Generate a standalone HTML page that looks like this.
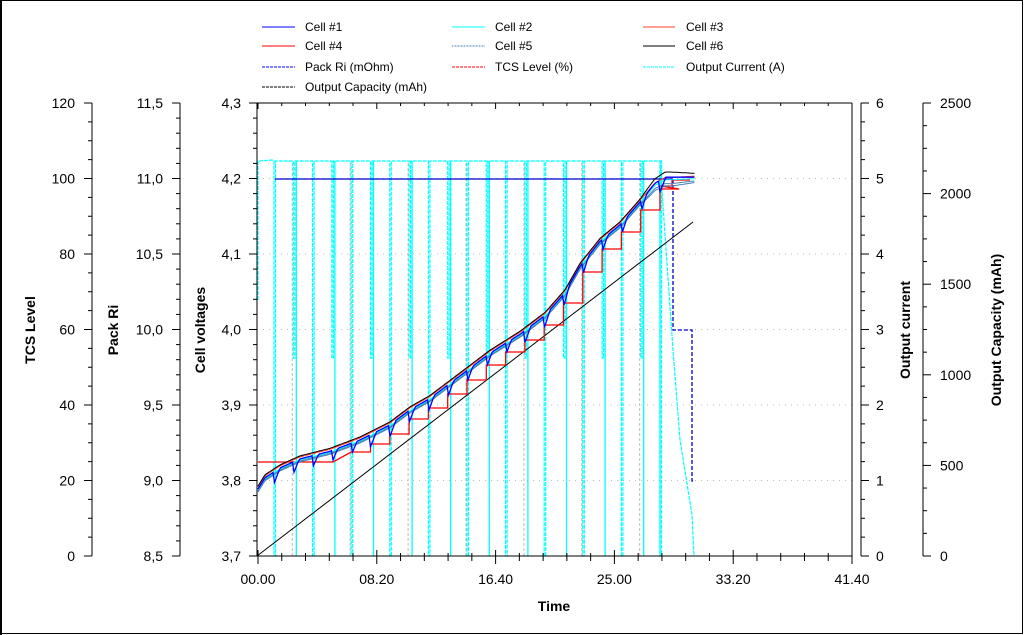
<!DOCTYPE html>
<html><head><meta charset="utf-8"><style>
body{margin:0;background:#fff}
svg{display:block;font-family:"Liberation Sans",sans-serif}
</style></head><body>
<svg id="s" width="1024" height="635" xmlns="http://www.w3.org/2000/svg">
<rect x="0.5" y="0.5" width="1022" height="633" fill="#fff" stroke="#000"/>
<rect x="0" y="0" width="2" height="635" fill="#000"/>
<g id="grid"></g>
<g id="data"></g>
<g id="axes" stroke="#000" fill="none"></g>
<g id="labels" font-size="14" fill="#000"></g>
<g font-size="14" font-weight="bold" fill="#000">
<text transform="translate(35,330) rotate(-90)" text-anchor="middle">TCS Level</text>
<text transform="translate(118,330) rotate(-90)" text-anchor="middle">Pack Ri</text>
<text transform="translate(205,330) rotate(-90)" text-anchor="middle">Cell voltages</text>
<text transform="translate(910,330) rotate(-90)" text-anchor="middle">Output current</text>
<text transform="translate(1001,330) rotate(-90)" text-anchor="middle">Output Capacity (mAh)</text>
<text x="554" y="611" text-anchor="middle">Time</text>
</g>
<g font-size="12" fill="#000">
<line x1="262" y1="27" x2="295" y2="27" stroke="#00f"/><text x="305" y="31">Cell #1</text>
<line x1="452" y1="27" x2="485" y2="27" stroke="#0ff"/><text x="495" y="31">Cell #2</text>
<line x1="643" y1="27" x2="675" y2="27" stroke="#ff4020"/><text x="686" y="31">Cell #3</text>
<line x1="262" y1="46" x2="295" y2="46" stroke="#f00"/><text x="305" y="50">Cell #4</text>
<line x1="452" y1="46" x2="485" y2="46" stroke="#4682b4" stroke-dasharray="1,0.5"/><text x="495" y="50">Cell #5</text>
<line x1="643" y1="46" x2="675" y2="46" stroke="#000"/><text x="686" y="50">Cell #6</text>
<line x1="262" y1="67" x2="295" y2="67" stroke="#00f" stroke-dasharray="3,1"/><text x="305" y="71">Pack Ri (mOhm)</text>
<line x1="452" y1="67" x2="485" y2="67" stroke="#f00" stroke-dasharray="3,1"/><text x="495" y="71">TCS Level (%)</text>
<line x1="643" y1="67" x2="675" y2="67" stroke="#0ff" stroke-dasharray="3,1"/><text x="686" y="71">Output Current (A)</text>
<line x1="262" y1="87" x2="295" y2="87" stroke="#000" stroke-dasharray="3,1"/><text x="305" y="91">Output Capacity (mAh)</text>
</g>
</svg>
<script>
const NS="http://www.w3.org/2000/svg";
function el(p,t,a,txt){const e=document.createElementNS(NS,t);for(const k in a)e.setAttribute(k,a[k]);if(txt!==undefined)e.textContent=txt;document.getElementById(p).appendChild(e);return e;}
function line(p,x1,y1,x2,y2,st,extra){el(p,'line',Object.assign({x1,y1,x2,y2,stroke:st||'#000'},extra||{}));}
const T=103,B=556,L=257,R=852;
for(let i=1;i<6;i++){const y=B-i*75.5;line('grid',L,y,R,y,'#bbb',{'stroke-dasharray':'1,5'});}
const A='axes';
line(A,L,T,R,T);line(A,L,B,R,B);line(A,L,T,L,B);line(A,R,T,R,B);
function vaxis(x,n,minorPer,labels,side,lx,anchor){
  line(A,x,T,x,B);
  const step=(B-T)/n;
  for(let i=0;i<=n;i++){const y=T+i*step;
    line(A,x,y,x+(side<0?-8:8),y);
    el('labels','text',{x:lx,y:y+5,'text-anchor':anchor},labels[i]);
    if(i<n)for(let j=1;j<minorPer;j++){const yy=y+j*step/minorPer;line(A,x,yy,x+(side<0?-4:4),yy);}
  }
}
vaxis(92,6,4,['120','100','80','60','40','20','0'],-1,75,'end');
vaxis(180,6,5,['11,5','11,0','10,5','10,0','9,5','9,0','8,5'],-1,163,'end');
vaxis(L,6,5,['4,3','4,2','4,1','4,0','3,9','3,8','3,7'],-1,241,'end');
vaxis(861,6,4,['6','5','4','3','2','1','0'],1,876,'start');
vaxis(923,5,4,['2500','2000','1500','1000','500','0'],1,940,'start');
const tl=['00.00','08.20','16.40','25.00','33.20','41.40'];
const sp=118.8;
for(let i=0;i<6;i++){const x=L+1+i*sp;line(A,x,B-6,x,B+8);el('labels','text',{x:x,y:584,'text-anchor':'middle'},tl[i]);
 line(A,x,T,x,T+6);
 if(i<5)for(let j=1;j<5;j++){const xx=x+j*sp/5;line(A,xx,B-3,xx,B+5);line(A,xx,T,xx,T+3);}
}
const D='data';
const pts=[[258,3.79],[265,3.805],[280,3.818],[300,3.83],[330,3.84],[360,3.855],[390,3.875],[410,3.895],[430,3.91],[460,3.94],[490,3.97],[520,3.995],[545,4.02],[565,4.05],[580,4.085],[600,4.118],[620,4.14],[640,4.17],[655,4.195],[665,4.203],[695,4.203]];
function vy(v){return B-(v-3.7)*755;}
function cv(x){for(let i=0;i<pts.length-1;i++){if(x<=pts[i+1][0]){const[a,b]=pts[i],[c,d]=pts[i+1];return b+(d-b)*(x-a)/(c-a);}}return pts[pts.length-1][1];}
const drops=[];for(let k=0;k<21;k++)drops.push(274+19.3*k);
let cp='M258,300 L258,161 L272,160';
drops.forEach((x,k)=>{if(x>662)return;const bot=(k%2==0)?556:358;cp+=` L${x},161 L${x},${bot} L${x+1.5},${bot} L${x+1.5},161`;});
cp+=' L660,162 L673,350 L680,440 L688,490 L692,515 L694,556';
el(D,'path',{d:cp,fill:'none',stroke:'#0ff','stroke-width':1.2,'stroke-dasharray':'4,1'});
drops.forEach((x,k)=>{if(x>662)return;if(k%2==1)line(D,x+3,161,x+3,556,'#0ff',{'stroke-width':1.3});});
line(D,660,170,660,556,'#0ff',{'stroke-width':1.3});
drops.forEach((x,k)=>{if(k%3==1&&x<662)line(D,x-1,163,x-1,556,'#bbb',{'stroke-dasharray':'3,2'});});
line(D,257,556,693,222,'#000');
el(D,'path',{d:'M673,179 L673,330 L692,330 L692,481 L694,481',fill:'none',stroke:'#00c','stroke-dasharray':'4,2','stroke-width':1.3});
line(D,275,179,673,179,'#00c',{'stroke-width':1.2});
let rp='M258,462 L333,462';
drops.forEach((x,k)=>{if(x<333||x>662)return;const y=Math.round(vy(cv(x))+10);rp+=` L${x},${y} L${x+19.3},${y}`;});
rp+=' L660,186 L672,186 L672,180 L690,180';
el(D,'path',{d:rp,fill:'none',stroke:'#f00','stroke-width':1.3});
const cells=[['#4682b4',3,0.006],['#0ff',2,0.002],['#ff4020',-1,0.003],['#4682b4',4,0.008],['#000',-2,-0.003],['#00f',1,0]];
cells.forEach(([c,off,late],i)=>{let d='';for(let x=258;x<=695;x+=1.5){let v=cv(x)-late*Math.min(1,Math.max(0,(x-640)/30))*Math.max(0,1-(x-670)/40);let y=vy(v)+off;
 if(i==5){for(const dx of drops){if(x>=dx&&x<dx+6)y+=12*(1-(x-dx)/6);}}
 d+=(d?' L':'M')+x.toFixed(1)+','+y.toFixed(1);}
 el(D,'path',{d:d,fill:'none',stroke:c,'stroke-width':i==5?1.3:1});});
</script>
</body></html>
